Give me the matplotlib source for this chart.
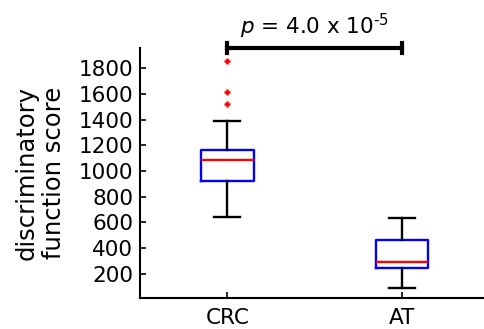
import matplotlib
matplotlib.use('Agg')
import matplotlib.pyplot as plt

# values
grupos = ['CRC', 'AT']
medianas = [1090, 288]
q1 = [924, 245]
q3 = [1163, 466]
bigote_inf = [645, 88]
bigote_sup = [1387, 635]
atipicos = [[1520, 1620, 1860], []]
texto_p = r'$p$ = 4.0 x 10$^{\text{-5}}$'

stats = []
for i in range(len(grupos)):
    stats.append({'med': medianas[i], 'q1': q1[i], 'q3': q3[i],
                  'whislo': bigote_inf[i], 'whishi': bigote_sup[i],
                  'fliers': atipicos[i], 'label': grupos[i]})

fig = plt.figure(figsize=(4.85, 3.29), dpi=100)
ax = fig.add_axes([0.2887, 0.0942, 0.7206, 0.76])

ax.bxp(stats, positions=[1, 2], widths=0.3,
       boxprops=dict(color='blue', linewidth=1.7),
       medianprops=dict(color='red', linewidth=1.7),
       whiskerprops=dict(color='black', linewidth=1.7),
       capprops=dict(color='black', linewidth=1.7),
       capwidths=0.15,
       flierprops=dict(marker='+', markeredgecolor='red', markersize=4.5, markeredgewidth=1.8))

ax.set_xlim(0.5, 2.5)
ax.set_ylim(10, 1960)
ax.set_yticks(range(200, 1801, 200))
ax.set_xticks([1, 2])
ax.set_xticklabels(grupos)
ax.tick_params(direction='in', length=4, width=1.2, labelsize=15.5, pad=5)
ax.tick_params(axis='x', pad=7)
ax.spines['top'].set_visible(False)
ax.spines['right'].set_visible(False)
ax.spines['left'].set_linewidth(1.5)
ax.spines['bottom'].set_linewidth(1.5)
ax.set_ylabel('discriminatory\nfunction score', fontsize=17.5, linespacing=1.15, labelpad=9)

# significance bar
ax.plot([1, 2], [1960, 1960], color='black', linewidth=3, clip_on=False)
ax.plot([1, 1], [1920, 2000], color='black', linewidth=3, clip_on=False)
ax.plot([2, 2], [1920, 2000], color='black', linewidth=3, clip_on=False)
ax.text(1.5, 2065, texto_p, ha='center', va='baseline', fontsize=15.5)

fig.savefig('out.png', dpi=100)
